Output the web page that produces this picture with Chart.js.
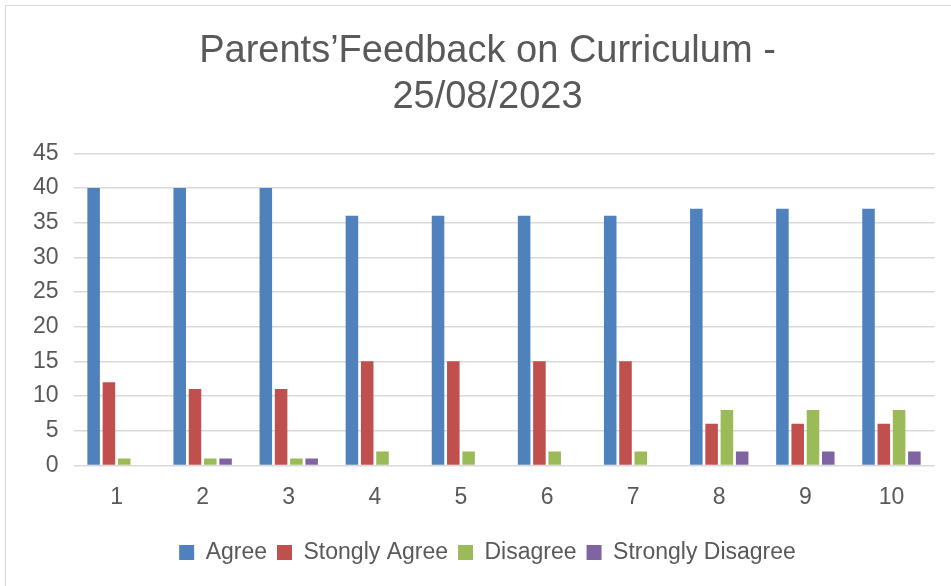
<!DOCTYPE html>
<html>
<head>
<meta charset="utf-8">
<script src="https://cdn.jsdelivr.net/npm/chart.js@4/dist/chart.umd.min.js"></script>
<style>
  html, body { margin: 0; padding: 0; background: #fff; overflow: hidden; width: 951px; height: 586px; }
  #wrap { position: absolute; left: 5px; top: 5px; width: 963px; height: 590px;
          border-left: 1.5px solid #d9d9d9; border-top: 1.5px solid #d9d9d9; box-sizing: border-box; }
  #c { position: absolute; left: 0; top: 0; }
</style>
</head>
<body>
<div id="wrap"><canvas id="c" width="963" height="581"></canvas></div>
<script>
const categories = ['1', '2', '3', '4', '5', '6', '7', '8', '9', '10'];
const agree = [40, 40, 40, 36, 36, 36, 36, 37, 37, 37];
const stronglyAgree = [12, 11, 11, 15, 15, 15, 15, 6, 6, 6];
const disagree = [1, 1, 1, 2, 2, 2, 2, 8, 8, 8];
const stronglyDisagree = [0, 1, 1, 0, 0, 0, 0, 2, 2, 2];
const seriesNames = ['Agree', 'Stongly Agree', 'Disagree', 'Strongly Disagree'];
const titleLines = ['Parents\u2019Feedback on Curriculum -', '25/08/2023'];

const FONT = '"Liberation Sans", Arial, Helvetica, sans-serif';
const TEXT = '#595959';

new Chart(document.getElementById('c'), {
  type: 'bar',
  data: {
    labels: categories,
    datasets: [
      { label: seriesNames[0], data: agree, backgroundColor: '#4F81BD' },
      { label: seriesNames[1], data: stronglyAgree, backgroundColor: '#C0504D' },
      { label: seriesNames[2], data: disagree, backgroundColor: '#9BBB59' },
      { label: seriesNames[3], data: stronglyDisagree, backgroundColor: '#8064A2' }
    ]
  },
  options: {
    responsive: false,
    animation: false,
    devicePixelRatio: 1,
    categoryPercentage: 0.71,
    barPercentage: 0.82,
    layout: { padding: { left: 0, right: 0, top: 0, bottom: 13 } },
    plugins: {
      title: {
        display: true,
        text: titleLines,
        color: TEXT,
        font: { family: FONT, size: 38, weight: 'normal', lineHeight: 1.21 },
        padding: { top: 22.5, bottom: 32.8 }
      },
      legend: {
        display: true,
        position: 'bottom',
        labels: {
          color: TEXT,
          font: { family: FONT, size: 23 },
          boxWidth: 15,
          boxHeight: 15,
          padding: 10
        }
      },
      tooltip: { enabled: false }
    },
    scales: {
      x: {
        grid: { display: false },
        border: { display: false },
        ticks: { color: TEXT, font: { family: FONT, size: 23 }, padding: 10, maxRotation: 0 },
        afterFit(axis) { axis.height += 10; }
      },
      y: {
        min: 0, max: 45,
        grid: { color: '#d9d9d9', lineWidth: 1.5, drawTicks: false },
        border: { display: false },
        ticks: { stepSize: 5, color: TEXT, font: { family: FONT, size: 23 }, padding: 15 },
        afterFit(axis) { axis.width = 67.5; }
      },
      yRight: {
        position: 'right',
        display: true,
        grid: { display: false },
        border: { display: false },
        ticks: { display: false },
        afterFit(axis) { axis.width = 34.5; }
      }
    }
  }
});
</script>
</body>
</html>
